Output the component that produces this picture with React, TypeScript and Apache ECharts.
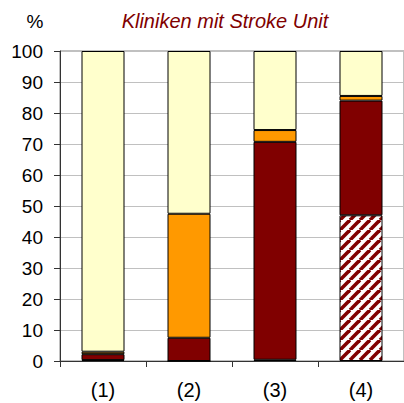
import React, { useEffect, useRef } from "react";
import * as echarts from "echarts";

const categories = ["(1)", "(2)", "(3)", "(4)"];
const hatchedValues = [0.3, 0, 0.4, 47];
const darkRedValues = [1.9, 7.5, 70.3, 37];
const orangeValues = [0.8, 40, 3.8, 1.5];
const yellowValues = [97, 52.5, 25.5, 14.5];
const titleText = "Kliniken mit Stroke Unit";
const unitText = "%";

function makeHatch(): HTMLCanvasElement {
  const p = 10;
  const c = document.createElement("canvas");
  c.width = p;
  c.height = p;
  const ctx = c.getContext("2d")!;
  ctx.fillStyle = "#ffffff";
  ctx.fillRect(0, 0, p, p);
  ctx.strokeStyle = "#800000";
  ctx.lineWidth = 3.6;
  for (let k = -1; k <= 1; k++) {
    ctx.beginPath();
    ctx.moveTo(k * p, p);
    ctx.lineTo(k * p + p, 0);
    ctx.stroke();
  }
  return c;
}

export default function App() {
  const ref = useRef<HTMLDivElement>(null);
  useEffect(() => {
    document.body.style.margin = "0";
    const chart = echarts.init(ref.current!, null, { renderer: "svg" });
    const font = "'Liberation Sans', Arial, sans-serif";
    const border = { borderColor: "#000", borderWidth: 1 };
    chart.setOption({
      animation: false,
      grid: {
        left: 60,
        top: 51,
        width: 350,
        height: 310,
        show: true,
        borderColor: "#808080",
        borderWidth: 1,
        backgroundColor: "transparent",
      },
      graphic: [
        {
          type: "text",
          x: 225,
          y: 21,
          style: {
            text: titleText,
            fontFamily: font,
            fontSize: 20,
            fontStyle: "italic",
            fill: "#800000",
            textAlign: "center",
            textVerticalAlign: "middle",
          },
        },
        {
          type: "text",
          x: 35,
          y: 21,
          style: {
            text: unitText,
            fontFamily: font,
            fontSize: 19,
            fill: "#000",
            textAlign: "center",
            textVerticalAlign: "middle",
          },
        },
      ],
      xAxis: {
        type: "category",
        data: categories,
        axisLine: { lineStyle: { color: "#333", width: 1 } },
        axisTick: { show: true, length: 6, lineStyle: { color: "#333" } },
        axisLabel: { fontFamily: font, fontSize: 20, color: "#000", margin: 19 },
      },
      yAxis: {
        type: "value",
        min: 0,
        max: 100,
        interval: 10,
        axisLine: { show: true, lineStyle: { color: "#333", width: 1 } },
        axisTick: { show: true, length: 6, lineStyle: { color: "#333" } },
        axisLabel: { fontFamily: font, fontSize: 19, color: "#000", margin: 17 },
        splitLine: { lineStyle: { color: "#c0c0c0", width: 1 } },
      },
      series: [
        {
          type: "bar",
          stack: "s",
          barWidth: 43,
          data: hatchedValues,
          itemStyle: { color: { image: makeHatch(), repeat: "repeat" }, ...border },
        },
        {
          type: "bar",
          stack: "s",
          barWidth: 43,
          data: darkRedValues,
          itemStyle: { color: "#800000", ...border },
        },
        {
          type: "bar",
          stack: "s",
          barWidth: 43,
          data: orangeValues,
          itemStyle: { color: "#ff9900", ...border },
        },
        {
          type: "bar",
          stack: "s",
          barWidth: 43,
          data: yellowValues,
          itemStyle: { color: "#ffffcc", ...border },
        },
      ],
    });
    return () => chart.dispose();
  }, []);
  return <div ref={ref} style={{ width: 404, height: 403 }} />;
}
